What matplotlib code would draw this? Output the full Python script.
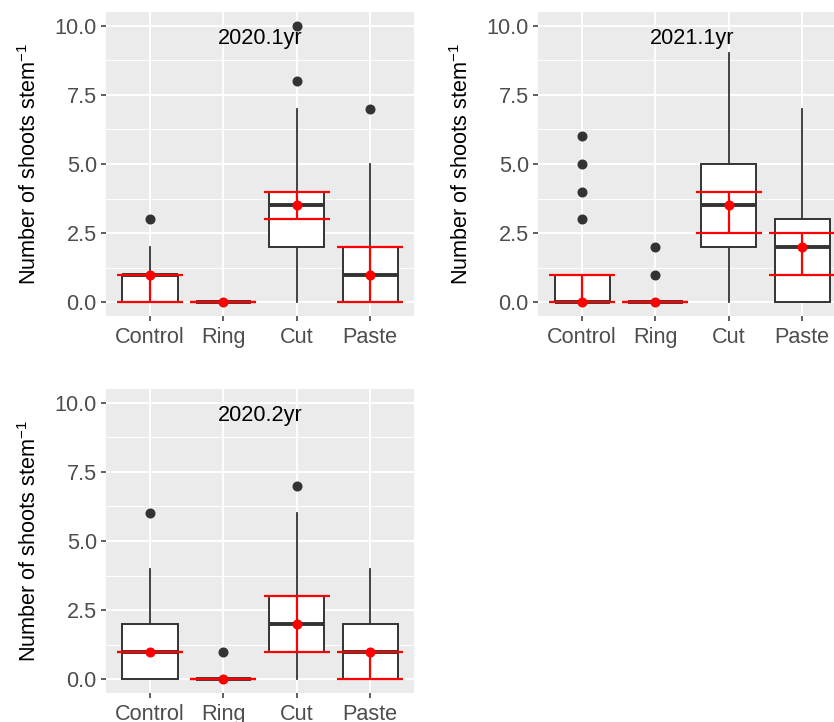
import matplotlib
matplotlib.use("Agg")
import matplotlib.pyplot as plt
from matplotlib.ticker import MultipleLocator

plt.rcParams['font.family'] = ['Liberation Sans', 'DejaVu Sans']
plt.rcParams['mathtext.fontset'] = 'custom'
plt.rcParams['mathtext.rm'] = 'Liberation Sans'

categories = ["Control", "Ring", "Cut", "Paste"]
panels = ["2020.1yr", "2021.1yr", "2020.2yr"]

# Box statistics per panel (order: Control, Ring, Cut, Paste)
q1 = {"2020.1yr": [0, 0, 2, 0], "2021.1yr": [0, 0, 2, 0], "2020.2yr": [0, 0, 1, 0]}
med = {"2020.1yr": [1, 0, 3.5, 1], "2021.1yr": [0, 0, 3.5, 2], "2020.2yr": [1, 0, 2, 1]}
q3 = {"2020.1yr": [1, 0, 4, 2], "2021.1yr": [1, 0, 5, 3], "2020.2yr": [2, 0, 3, 2]}
whislo = {"2020.1yr": [0, 0, 0, 0], "2021.1yr": [0, 0, 0, 0], "2020.2yr": [0, 0, 0, 0]}
whishi = {"2020.1yr": [2, 0, 7, 5], "2021.1yr": [1, 0, 9, 7], "2020.2yr": [4, 0, 6, 4]}
outliers = {
    "2020.1yr": [[3], [], [8, 10], [7]],
    "2021.1yr": [[3, 4, 5, 6], [1, 2], [], []],
    "2020.2yr": [[6], [1], [7], []],
}
# Red summary point with error bar
point = {"2020.1yr": [1, 0, 3.5, 1], "2021.1yr": [0, 0, 3.5, 2], "2020.2yr": [1, 0, 2, 1]}
err_lo = {"2020.1yr": [0, 0, 3, 0], "2021.1yr": [0, 0, 2.5, 1], "2020.2yr": [1, 0, 1, 0]}
err_hi = {"2020.1yr": [1, 0, 4, 2], "2021.1yr": [1, 0, 4, 2.5], "2020.2yr": [1, 0, 3, 1]}

yticks = [0.0, 2.5, 5.0, 7.5, 10.0]

W, H = 834, 722
fig = plt.figure(figsize=(W / 100, H / 100), dpi=100)

positions_px = {
    "2020.1yr": (106, 12, 308, 304),
    "2021.1yr": (538, 12, 308, 304),
    "2020.2yr": (106, 389, 308, 304),
}

dark = "#333333"
FS = 15.6

for name in panels:
    x0, y0, w, h = positions_px[name]
    ax = fig.add_axes([x0 / W, 1 - (y0 + h) / H, w / W, h / H])
    ax.set_facecolor("#EBEBEB")
    for s in ax.spines.values():
        s.set_visible(False)
    xs = list(range(1, len(categories) + 1))
    stats = []
    for i, c in enumerate(categories):
        stats.append(dict(q1=q1[name][i], med=med[name][i], q3=q3[name][i],
                          whislo=whislo[name][i], whishi=whishi[name][i],
                          fliers=outliers[name][i], label=c))
    ax.bxp(stats, positions=xs, widths=0.75, patch_artist=True, showcaps=False,
           boxprops=dict(facecolor="white", edgecolor=dark, linewidth=1.4),
           medianprops=dict(color=dark, linewidth=2.8, solid_capstyle='butt'),
           whiskerprops=dict(color=dark, linewidth=1.3),
           flierprops=dict(marker='o', markerfacecolor=dark, markeredgecolor=dark,
                           markersize=6.2, linestyle='none'),
           zorder=3)
    for i in range(len(categories)):
        ax.errorbar([xs[i]], [point[name][i]],
                    yerr=[[point[name][i] - err_lo[name][i]], [err_hi[name][i] - point[name][i]]],
                    fmt='none', ecolor='red', elinewidth=1.6, capsize=0, zorder=4)
        ax.hlines([err_lo[name][i], err_hi[name][i]], xs[i] - 0.45, xs[i] + 0.45,
                  colors='red', linewidth=1.6, zorder=4)
    ax.plot(xs, point[name], 'o', color='red', markersize=6.2, zorder=5, linestyle='none')

    ax.set_xlim(0.4, 4.6)
    ax.set_ylim(-0.5, 10.5)
    ax.set_xticks(xs)
    ax.set_xticklabels(categories)
    ax.set_yticks(yticks)
    ax.set_yticklabels([f"{v:.1f}" for v in yticks])
    ax.yaxis.set_minor_locator(MultipleLocator(1.25))
    ax.grid(True, which='major', color='white', linewidth=1.4, zorder=0)
    ax.grid(True, which='minor', axis='y', color='white', linewidth=0.7, zorder=0)
    ax.set_axisbelow(True)
    ax.tick_params(axis='both', which='major', length=3.6, width=1.1, color=dark,
                   labelcolor="#4D4D4D", labelsize=FS, pad=3)
    ax.tick_params(axis='x', which='major', pad=4.5)
    ax.tick_params(axis='y', which='minor', length=0)
    ax.set_ylabel("Number of shoots stem$^{\u2212\\mathregular{1}}$", fontsize=FS,
                  color='black', labelpad=10)
    ax.text(2.5, 9.92, name, ha='center', va='top', fontsize=FS, color='black', zorder=6)

fig.savefig("out.png", dpi=100)
